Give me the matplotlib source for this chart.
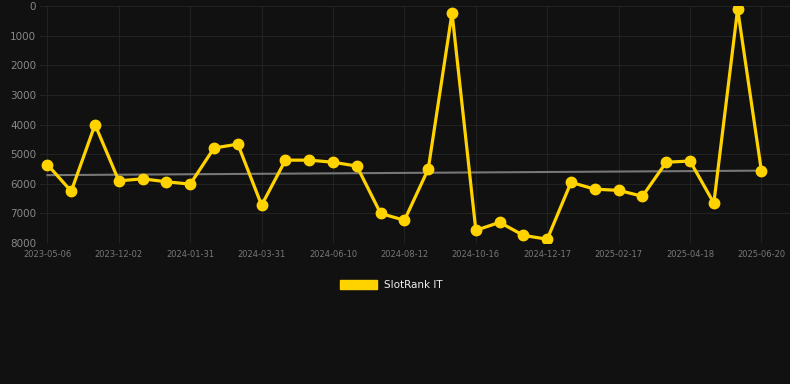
import numpy as np
import matplotlib
matplotlib.use("Agg")
import matplotlib.pyplot as plt
import matplotlib.patches as mpatches

dates = ["2023-05-06", "", "", "2023-12-02", "", "", "2024-01-31", "", "",
         "2024-03-31", "", "", "2024-06-10", "", "", "2024-08-12", "", "",
         "2024-10-16", "", "", "2024-12-17", "", "", "2025-02-17", "", "",
         "2025-04-18", "", "", "2025-06-20"]
ranks = [5350, 6250, 4000, 5900, 5830, 5930, 6010, 4790, 4660, 6720,
         5200, 5200, 5270, 5400, 7000, 7230, 5500, 230, 7570, 7300,
         7740, 7870, 5950, 6180, 6220, 6420, 5270, 5230, 6650, 100, 5570]
series_name = "SlotRank IT"

bg = "#111111"
yellow = "#FFD300"

fig = plt.figure(figsize=(7.9, 3.84), dpi=100, facecolor=bg)
ax = fig.add_axes([0.051, 0.367, 0.949, 0.617], facecolor=bg)

x = np.arange(len(ranks))
coef = np.polyfit(x, ranks, 1)
ax.plot(x, np.polyval(coef, x), color="#777777", lw=1.5, zorder=2)
ax.plot(x, ranks, color=yellow, lw=2.3, marker="o", ms=7.5, zorder=3)

ax.set_xlim(-0.3, 31.2)
ax.set_ylim(8000, 0)
ax.set_yticks(np.arange(0, 8001, 1000))
ax.set_yticklabels([str(v) for v in range(0, 8001, 1000)])
ticks = [i for i, d in enumerate(dates) if d]
ax.set_xticks(ticks)
ax.set_xticklabels([dates[i] for i in ticks])

ax.grid(True, color="#222222", lw=0.8)
for s in ax.spines.values():
    s.set_visible(False)
ax.tick_params(axis="y", colors="#888888", labelsize=7.5, length=0, pad=3)
ax.tick_params(axis="x", colors="#777777", labelsize=6, length=0, pad=5)

handle = mpatches.Patch(color=yellow, label=series_name)
leg = fig.legend(handles=[handle], loc="center", bbox_to_anchor=(0.495, 0.258),
                 frameon=False, fontsize=7.5, handlelength=3.6, handleheight=1.0,
                 handletextpad=0.6)
for t in leg.get_texts():
    t.set_color("#eeeeee")

fig.savefig("out.png", facecolor=bg)
